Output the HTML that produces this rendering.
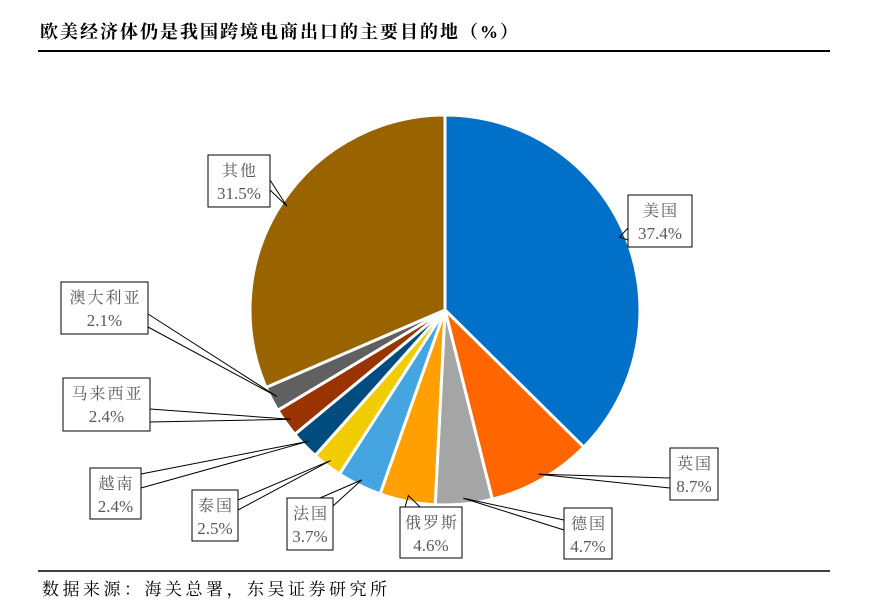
<!DOCTYPE html>
<html><head><meta charset="utf-8"><style>
body{margin:0;background:#fff;width:874px;height:609px;overflow:hidden;font-family:"Liberation Serif","Noto Serif CJK SC",serif;}
</style></head><body>
<svg width="874" height="609" viewBox="0 0 874 609">
<text x="40" y="38" font-size="18" font-weight="bold" letter-spacing="2" fill="#000" font-family="'Liberation Serif','Noto Serif CJK SC',serif">欧美经济体仍是我国跨境电商出口的主要目的地（%）</text>
<line x1="38" y1="51" x2="830" y2="51" stroke="#000" stroke-width="2"/>
<line x1="38" y1="571" x2="830" y2="571" stroke="#000" stroke-width="1.5"/>
<text x="42" y="595" font-size="17" letter-spacing="3.5" fill="#000" font-family="'Liberation Serif','Noto Serif CJK SC',serif">数据来源：海关总署，东吴证券研究所</text>
<g id="pie"></g>
<g id="labels"></g>
</svg>
<script>
const categories=["美国","英国","德国","俄罗斯","法国","泰国","越南","马来西亚","澳大利亚","其他"];
const values=[37.4,8.7,4.7,4.6,3.7,2.5,2.4,2.4,2.1,31.5];
const colors=["#0070C8","#FF6600","#A5A5A5","#FFA000","#45A5E0","#F0CC00","#004C80","#993300","#606060","#996300"];
const boxes=[[628,195,64,52,[628,228],[628,240]],[670,448,48,52,[670,478],[670,488]],[564,508,48,51,[564,520],[564,530]],[400,507,62,51,[405,507],[420,507]],[287,498,46,52,[320,498],[333,506]],[192,490,46,51,[238,500],[238,510]],[90,468,51,51,[141,474],[141,488]],[63,378,87,53,[150,409],[150,422]],[61,282,87,52,[148,314],[148,327]],[208,155,62,52,[270,180],[270,190]]];
const cx=445,cy=310,R=195;
const NS="http://www.w3.org/2000/svg";
const pie=document.getElementById('pie'),lab=document.getElementById('labels');
const total=values.reduce((a,b)=>a+b,0);
function pt(a,r){return [cx+r*Math.sin(a),cy-r*Math.cos(a)];}
let acc=0;
values.forEach((v,i)=>{
  const a0=acc/total*2*Math.PI;acc+=v;const a1=acc/total*2*Math.PI;
  const p0=pt(a0,R),p1=pt(a1,R);
  const p=document.createElementNS(NS,'path');
  p.setAttribute('d',`M${cx},${cy}L${p0[0]},${p0[1]}A${R},${R} 0 ${a1-a0>Math.PI?1:0} 1 ${p1[0]},${p1[1]}Z`);
  p.setAttribute('fill',colors[i]);p.setAttribute('stroke','#fff');p.setAttribute('stroke-width','3');
  
  
  pie.appendChild(p);
  const tip=pt((a0+a1)/2,R*0.97);
  const b=boxes[i];
  const l=document.createElementNS(NS,'polyline');
  l.setAttribute('points',`${b[4][0]},${b[4][1]} ${tip[0]},${tip[1]} ${b[5][0]},${b[5][1]}`);
  l.setAttribute('fill','none');l.setAttribute('stroke','#000');l.setAttribute('stroke-width','1');
  
  
  lab.appendChild(l);
  const r=document.createElementNS(NS,'rect');
  r.setAttribute('x',b[0]);r.setAttribute('y',b[1]);r.setAttribute('width',b[2]);r.setAttribute('height',b[3]);
  r.setAttribute('fill','#fff');r.setAttribute('stroke','#000');r.setAttribute('stroke-width','1');
  
  
  lab.appendChild(r);
  [[categories[i],21,16,2],[v.toFixed(1)+'%',44,17,0]].forEach(([s,dy,fs,ls])=>{
    const t=document.createElementNS(NS,'text');
    t.setAttribute('x',b[0]+b[2]/2+ls/2);t.setAttribute('y',b[1]+dy);
    t.setAttribute('text-anchor','middle');t.setAttribute('font-size',fs);t.setAttribute('fill','#595959');
    t.setAttribute('letter-spacing',ls);
    t.textContent=s;
    
    
    lab.appendChild(t);
  });
});
</script>
</body></html>
